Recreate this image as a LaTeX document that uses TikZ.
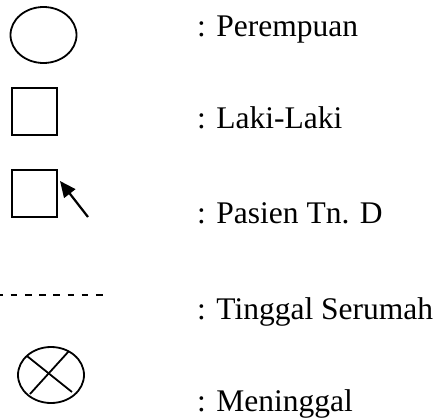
\documentclass[tikz,border=0pt]{standalone}
\usepackage{fontspec}
\setmainfont{Liberation Serif}
\usetikzlibrary{shapes.geometric,arrows.meta}
\tikzset{
  sym/.style={draw=black, line width=1.8pt, inner sep=0pt},
  femalesym/.style={sym, ellipse, minimum width=66pt, minimum height=56pt},
  malesym/.style={sym, rectangle, minimum width=45pt, minimum height=47pt},
  keytext/.style={anchor=base west, inner sep=0pt, font=\fontsize{31.5}{36}\selectfont},
  livesym/.style={line width=1.8pt, dash pattern=on 6.7pt off 7.5pt, dash phase=3.5pt},
  pointer/.style={line width=2.2pt, -{Triangle[length=16pt,width=14pt]}},
}
\begin{document}
\begin{tikzpicture}[x=1pt, y=-1pt]
\useasboundingbox (0,0) rectangle (439,420);

% symbols
\node[femalesym] (perempuan) at (43.5,35) {};
\node[malesym] (laki) at (34.5,111.5) {};
\node[malesym] (pasien) at (34.5,193.5) {};
\coordinate (ptail) at (88,217);
\coordinate (ptip) at (60,181);
\draw[pointer] (ptail) -- (ptip);

\coordinate (dashA) at (0,295);
\coordinate (dashB) at (102.5,295);
\draw[livesym] (dashA) -- (dashB);

\node[femalesym] (meninggal) at (51,375) {};
\draw[line width=1.8pt] ([shift={(-24,-19)}]meninggal.center) -- ([shift={(21,17)}]meninggal.center);
\draw[line width=1.8pt] ([shift={(18,-24)}]meninggal.center) -- ([shift={(-21,19)}]meninggal.center);

% labels
\node[keytext] (tperempuan) at (197,37) {: Perempuan};
\node[keytext] (tlaki) at (197,128) {: Laki-Laki};
\node[keytext] (tpasien) at (197,223) {: Pasien Tn. D};
\node[keytext] (ttinggal) at (197,319) {: Tinggal Serumah};
\node[keytext] (tmeninggal) at (197,411) {: Meninggal};
\end{tikzpicture}
\end{document}
